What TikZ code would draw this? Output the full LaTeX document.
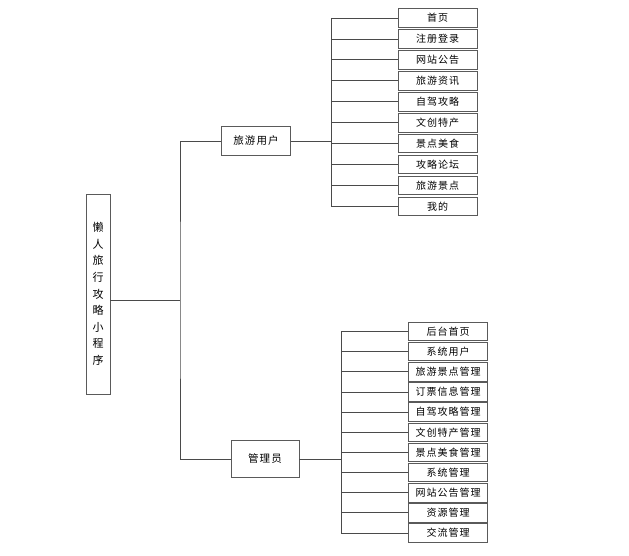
\documentclass[tikz,border=0pt]{standalone}
\usepackage{fontspec}
\usepackage{tikz}
\usetikzlibrary{
  positioning,
  calc
}
\newfontfamily\cjk[LetterSpace=10]{Noto Sans CJK SC}
\definecolor{BoxEdge}{HTML}{5A5A5A}
\definecolor{LinkGray}{HTML}{4A4A4A}
\tikzset{
  % Root box: tall and narrow, text stacked
  rootbox/.style={
    rectangle, draw=BoxEdge, line width=0.9pt, fill=white,
    minimum width=24pt, minimum height=200pt, inner sep=0pt,
    align=center, font=\cjk\fontsize{11}{16.6}\selectfont
  },
  % Role box
  rolebox/.style={
    rectangle, draw=BoxEdge, line width=0.9pt, fill=white,
    minimum width=#1, inner sep=0pt,
    align=center, font=\cjk\fontsize{10.5}{12}\selectfont
  },
  % Function box
  fnbox/.style={
    rectangle, draw=BoxEdge, line width=0.9pt, fill=white,
    minimum width=79pt, minimum height=#1, inner sep=0pt,
    align=center, font=\cjk\fontsize{10}{12}\selectfont
  },
  % Connector
  link/.style={draw=LinkGray, line width=0.8pt}
}
\begin{document}
\begin{tikzpicture}[x=1pt, y=-1pt]
  \useasboundingbox (0,0) rectangle (629,556);

  \node[rootbox] (root) at (98,294) {懒\\人\\旅\\行\\攻\\略\\小\\程\\序};
  \coordinate (trunk) at (180,300);

  \node[rolebox=69pt, minimum height=29pt] (user)  at (256,141) {旅游用户};
  \node[rolebox=68pt, minimum height=37pt] (admin) at (265,459) {管理员};

  % user side
  \node[fnbox=18.5pt] (home) at (437.5,18) {首页};
  \node[fnbox=18.5pt, below=1.55pt of home]   (reg)    {注册登录};
  \node[fnbox=18.5pt, below=1.55pt of reg]    (notice) {网站公告};
  \node[fnbox=18.5pt, below=1.55pt of notice] (news)   {旅游资讯};
  \node[fnbox=18.5pt, below=1.55pt of news]   (drive)  {自驾攻略};
  \node[fnbox=18.5pt, below=1.55pt of drive]  (craft)  {文创特产};
  \node[fnbox=18.5pt, below=1.55pt of craft]  (food)   {景点美食};
  \node[fnbox=18.5pt, below=1.55pt of food]   (forum)  {攻略论坛};
  \node[fnbox=18.5pt, below=1.55pt of forum]  (spot)   {旅游景点};
  \node[fnbox=18.5pt, below=1.55pt of spot]   (mine)   {我的};
  \coordinate (ubus) at (331,141);

  % admin side
  \node[fnbox=18.5pt] (ahome) at (448,331.5) {后台首页};
  \node[fnbox=18.5pt, below=0.75pt of ahome]  (auser)   {系统用户};
  \node[fnbox=18.5pt, below=0.75pt of auser]  (aspot)   {旅游景点管理};
  \node[fnbox=18.5pt, below=0.75pt of aspot]  (aticket) {订票信息管理};
  \node[fnbox=18.5pt, below=0.75pt of aticket](adrive)  {自驾攻略管理};
  \node[fnbox=18.5pt, below=0.75pt of adrive] (acraft)  {文创特产管理};
  \node[fnbox=18.5pt, below=0.75pt of acraft] (afood)   {景点美食管理};
  \node[fnbox=18.5pt, below=0.75pt of afood]  (asys)    {系统管理};
  \node[fnbox=18.5pt, below=0.75pt of asys]   (anotice) {网站公告管理};
  \node[fnbox=18.5pt, below=0.75pt of anotice](ares)    {资源管理};
  \node[fnbox=18.5pt, below=0.75pt of ares]   (achat)   {交流管理};
  \coordinate (abus) at (341,459);

  % trunk
  \draw[link] (root.east |- trunk) -- (trunk);
  \draw[link] (user.west) -| (trunk) -- (trunk |- admin.west) -- (admin.west);

  % user branches
  \draw[link] (user.east) -- (ubus);
  \draw[link] (ubus |- home.west) -- (ubus |- mine.west);
  \draw[link] (ubus |- home.west)   -- (home.west);
  \draw[link] (ubus |- reg.west)    -- (reg.west);
  \draw[link] (ubus |- notice.west) -- (notice.west);
  \draw[link] (ubus |- news.west)   -- (news.west);
  \draw[link] (ubus |- drive.west)  -- (drive.west);
  \draw[link] (ubus |- craft.west)  -- (craft.west);
  \draw[link] (ubus |- food.west)   -- (food.west);
  \draw[link] (ubus |- forum.west)  -- (forum.west);
  \draw[link] (ubus |- spot.west)   -- (spot.west);
  \draw[link] (ubus |- mine.west)   -- (mine.west);

  % admin branches
  \draw[link] (admin.east) -- (abus);
  \draw[link] (abus |- ahome.west) -- (abus |- achat.west);
  \draw[link] (abus |- ahome.west)   -- (ahome.west);
  \draw[link] (abus |- auser.west)   -- (auser.west);
  \draw[link] (abus |- aspot.west)   -- (aspot.west);
  \draw[link] (abus |- aticket.west) -- (aticket.west);
  \draw[link] (abus |- adrive.west)  -- (adrive.west);
  \draw[link] (abus |- acraft.west)  -- (acraft.west);
  \draw[link] (abus |- afood.west)   -- (afood.west);
  \draw[link] (abus |- asys.west)    -- (asys.west);
  \draw[link] (abus |- anotice.west) -- (anotice.west);
  \draw[link] (abus |- ares.west)    -- (ares.west);
  \draw[link] (abus |- achat.west)   -- (achat.west);
\end{tikzpicture}
\end{document}
